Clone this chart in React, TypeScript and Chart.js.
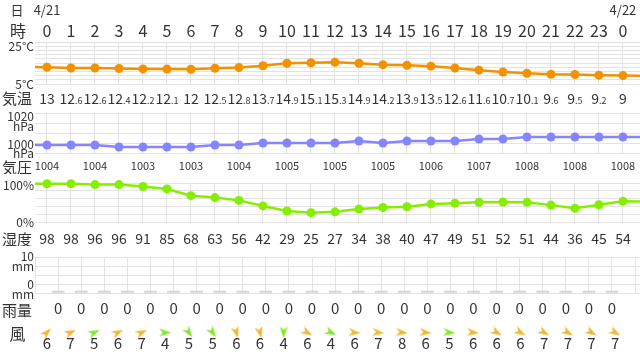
import React, { useEffect, useRef } from 'react';
import { Chart, registerables } from 'chart.js';

Chart.register(...registerables);

// ---------- data ----------
const hourLabels = ['0','1','2','3','4','5','6','7','8','9','10','11','12','13','14','15','16','17','18','19','20','21','22','23','0'];
const dateLabels = ['4/21','','','','','','','','','','','','','','','','','','','','','','','','4/22'];

const temperature = [13, 12.6, 12.6, 12.4, 12.2, 12.1, 12, 12.5, 12.8, 13.7, 14.9, 15.1, 15.3, 14.9, 14.2, 13.9, 13.5, 12.6, 11.6, 10.7, 10.1, 9.6, 9.5, 9.2, 9];
const temperatureBefore = 13.1;
const temperatureAfter = 8.9;

const pressure = [1004, 1004, 1004, 1003, 1003, 1003, 1003, 1004, 1004, 1005, 1005, 1005, 1005, 1006, 1005, 1006, 1006, 1006, 1007, 1007, 1008, 1008, 1008, 1008, 1008];
const pressureBefore = 1004;
const pressureAfter = 1008;

const humidity = [98, 98, 96, 96, 91, 85, 68, 63, 56, 42, 29, 25, 27, 34, 38, 40, 47, 49, 51, 52, 51, 44, 36, 45, 54];
const humidityBefore = 98;
const humidityAfter = 53;

const rainfall = [0, 0, 0, 0, 0, 0, 0, 0, 0, 0, 0, 0, 0, 0, 0, 0, 0, 0, 0, 0, 0, 0, 0, 0, 0];

const windSpeed = [6, 7, 5, 6, 7, 4, 5, 5, 6, 6, 4, 6, 4, 6, 7, 8, 6, 5, 6, 6, 6, 7, 7, 7, 7];
// arrow heading on screen, degrees clockwise from "pointing right"
const windHeading = [-45, -25, -25, -25, -25, 0, 55, 55, 75, 75, 90, 30, 25, 5, 5, 5, 5, 5, 5, 30, 30, 30, 30, 30, 30];

// ---------- style ----------
const FONT = "'Noto Sans CJK JP', 'Noto Sans', sans-serif";
const TEXT = '#333333';
const GRID = '#e3e3e3';
const ORANGE = '#f39200';
const PURPLE = '#8585ff';
const GREEN = '#86ee00';
const WIND_ORANGE = '#f6b62c';
const WIND_GREEN = '#80e825';

const cols = hourLabels.map((_, i) => i);
const colEdges = [...cols.map((i) => i - 0.5), 24.5];

function xScale(gridAt: number[] | null) {
  return {
    type: 'linear',
    min: -0.5,
    max: 24.71,
    display: gridAt !== null,
    afterBuildTicks: (s: any) => {
      s.ticks = (gridAt || []).map((v) => ({ value: v }));
    },
    ticks: { display: false },
    grid: { color: GRID, drawTicks: false, lineWidth: 1 },
    border: { display: false },
  };
}

function yScale(min: number, max: number, step: number) {
  return {
    type: 'linear',
    min,
    max,
    afterBuildTicks: (s: any) => {
      const t: any[] = [];
      for (let v = min; v <= max + 1e-9; v += step) t.push({ value: v });
      s.ticks = t;
    },
    ticks: { display: false },
    grid: { color: GRID, drawTicks: false, lineWidth: 1 },
    border: { display: false },
  };
}

function txt(ctx: CanvasRenderingContext2D, s: string, x: number, y: number, size: number, align: CanvasTextAlign = 'center', color = TEXT) {
  ctx.save();
  ctx.font = `${size}px ${FONT}`;
  ctx.fillStyle = color;
  ctx.textAlign = align;
  ctx.textBaseline = 'middle';
  ctx.fillText(s, x, y);
  ctx.restore();
}

function tempText(ctx: CanvasRenderingContext2D, v: number, x: number, baseline: number) {
  const [ip, dp] = String(v).split('.');
  ctx.save();
  ctx.fillStyle = TEXT;
  ctx.textBaseline = 'alphabetic';
  ctx.textAlign = 'left';
  ctx.font = `14px ${FONT}`;
  const w1 = ctx.measureText(ip).width;
  let w2 = 0;
  if (dp) {
    ctx.font = `9px ${FONT}`;
    w2 = ctx.measureText('.' + dp).width;
  }
  const left = x - (w1 + w2) / 2;
  ctx.font = `14px ${FONT}`;
  ctx.fillText(ip, left, baseline);
  if (dp) {
    ctx.font = `9px ${FONT}`;
    ctx.fillText('.' + dp, left + w1, baseline);
  }
  ctx.restore();
}

function lineData(before: number, values: number[], after: number) {
  return [{ x: -1, y: before }, ...values.map((y, i) => ({ x: i, y })), { x: 25, y: after }];
}

function lineDataset(data: any[], color: string) {
  return {
    type: 'line',
    data,
    borderColor: color,
    backgroundColor: color,
    borderWidth: 2.5,
    pointBackgroundColor: color,
    pointBorderWidth: 0,
    pointRadius: (c: any) => (c.raw && (c.raw.x < 0 || c.raw.x > 24) ? 0 : 4.5),
    tension: 0,
    clip: { left: 0, right: 0, top: false, bottom: false },
  };
}

function makeArrow(color: string) {
  const c = document.createElement('canvas');
  c.width = 14;
  c.height = 14;
  const g = c.getContext('2d')!;
  g.fillStyle = color;
  g.beginPath();
  g.moveTo(13, 7);
  g.lineTo(1, 3);
  g.lineTo(4.5, 7);
  g.lineTo(1, 11);
  g.closePath();
  g.fill();
  return c;
}

const baseOptions = (padding: any) => ({
  responsive: false,
  animation: false,
  events: [],
  layout: { padding },
  plugins: { legend: { display: false }, tooltip: { enabled: false } },
});

export default function App() {
  const tRef = useRef<HTMLCanvasElement>(null);
  const pRef = useRef<HTMLCanvasElement>(null);
  const hRef = useRef<HTMLCanvasElement>(null);
  const rRef = useRef<HTMLCanvasElement>(null);
  const wRef = useRef<HTMLCanvasElement>(null);

  useEffect(() => {
    const charts: Chart[] = [];

    // temperature + header
    charts.push(
      new Chart(tRef.current!, {
        type: 'line',
        data: { datasets: [lineDataset(lineData(temperatureBefore, temperature, temperatureAfter), ORANGE) as any] },
        options: {
          ...(baseOptions({ left: 35, right: 0, top: 42, bottom: 24 }) as any),
          scales: { x: xScale(cols), y: yScale(5, 25, 2) },
        },
        plugins: [
          {
            id: 'tempText',
            afterDraw(chart: any) {
              const ctx = chart.ctx;
              const xs = chart.scales.x;
              txt(ctx, '日', 17, 10, 13);
              txt(ctx, '時', 18, 31, 16);
              dateLabels.forEach((d, i) => d && txt(ctx, d, xs.getPixelForValue(i), 10, 13));
              hourLabels.forEach((h, i) => txt(ctx, h, xs.getPixelForValue(i), 31, 16));
              txt(ctx, '25°C', 34, 46.5, 12, 'right');
              txt(ctx, '5°C', 34, 84.5, 12, 'right');
              txt(ctx, '気温', 2, 98.5, 15, 'left');
              temperature.forEach((v, i) => tempText(ctx, v, xs.getPixelForValue(i), 103.5));
            },
          },
        ],
      } as any)
    );

    // pressure
    charts.push(
      new Chart(pRef.current!, {
        type: 'line',
        data: { datasets: [lineDataset(lineData(pressureBefore, pressure, pressureAfter), PURPLE) as any] },
        options: {
          ...(baseOptions({ left: 35, right: 0, top: 5, bottom: 21 }) as any),
          scales: { x: xScale(cols), y: yScale(1000, 1020, 5) },
        },
        plugins: [
          {
            id: 'presText',
            afterDraw(chart: any) {
              const ctx = chart.ctx;
              const xs = chart.scales.x;
              txt(ctx, '1020', 34, 8.5, 12, 'right');
              txt(ctx, 'hPa', 34, 18, 12, 'right');
              txt(ctx, '1000', 34, 36.5, 12, 'right');
              txt(ctx, 'hPa', 34, 45.5, 12, 'right');
              txt(ctx, '気圧', 2, 59.5, 15, 'left');
              pressure.forEach((v, i) => {
                if (i % 2 === 0) txt(ctx, String(v), xs.getPixelForValue(i), 58, 11);
              });
            },
          },
        ],
      } as any)
    );

    // humidity
    charts.push(
      new Chart(hRef.current!, {
        type: 'line',
        data: { datasets: [lineDataset(lineData(humidityBefore, humidity, humidityAfter), GREEN) as any] },
        options: {
          ...(baseOptions({ left: 35, right: 0, top: 9, bottom: 23.5 }) as any),
          scales: { x: xScale(cols), y: yScale(0, 100, 20) },
        },
        plugins: [
          {
            id: 'humText',
            afterDraw(chart: any) {
              const ctx = chart.ctx;
              const xs = chart.scales.x;
              txt(ctx, '100%', 34, 11, 12, 'right');
              txt(ctx, '0%', 34, 48.5, 12, 'right');
              txt(ctx, '湿度', 2, 65, 15, 'left');
              humidity.forEach((v, i) => txt(ctx, String(v), xs.getPixelForValue(i), 64.5, 14));
            },
          },
        ],
      } as any)
    );

    // rainfall
    charts.push(
      new Chart(rRef.current!, {
        type: 'bar',
        data: {
          datasets: [
            {
              data: rainfall.map((y, i) => ({ x: i, y })),
              backgroundColor: '#d6d6d6',
              barThickness: 12,
              minBarLength: 2,
              borderWidth: 0,
              clip: false,
            } as any,
          ],
        },
        options: {
          ...(baseOptions({ left: 35, right: 0, top: 11, bottom: 25 }) as any),
          scales: { x: xScale(colEdges), y: yScale(0, 10, 2.5) },
        },
        plugins: [
          {
            id: 'rainText',
            afterDraw(chart: any) {
              const ctx = chart.ctx;
              const xs = chart.scales.x;
              txt(ctx, '10', 34, 10.5, 12, 'right');
              txt(ctx, 'mm', 34, 20.5, 12, 'right');
              txt(ctx, '0', 34, 38.5, 12, 'right');
              txt(ctx, 'mm', 34, 48.5, 12, 'right');
              txt(ctx, '雨量', 2, 64.5, 15, 'left');
              rainfall.forEach((v, i) => txt(ctx, String(v), xs.getPixelForValue(i), 62.5, 15));
            },
          },
        ],
      } as any)
    );

    // wind
    const orangeArrow = makeArrow(WIND_ORANGE);
    const greenArrow = makeArrow(WIND_GREEN);
    charts.push(
      new Chart(wRef.current!, {
        type: 'line',
        data: {
          datasets: [
            {
              data: windSpeed.map((_, i) => ({ x: i, y: 0 })),
              showLine: false,
              pointRadius: 7,
              pointStyle: (c: any) => (windSpeed[c.dataIndex] <= 5 ? greenArrow : orangeArrow),
              pointRotation: windHeading,
              clip: false,
            } as any,
          ],
        },
        options: {
          ...(baseOptions({ left: 35, right: 0, top: 0, bottom: 15 }) as any),
          scales: {
            x: xScale(null),
            y: { type: 'linear', min: -1, max: 1, display: false },
          },
        },
        plugins: [
          {
            id: 'windText',
            afterDraw(chart: any) {
              const ctx = chart.ctx;
              const xs = chart.scales.x;
              txt(ctx, '風', 17.5, 15.5, 16);
              windSpeed.forEach((v, i) => txt(ctx, String(v), xs.getPixelForValue(i), 25.5, 15));
            },
          },
        ],
      } as any)
    );

    return () => charts.forEach((c) => c.destroy());
  }, []);

  const cv = (top: number, height: number, ref: any) => (
    <canvas ref={ref} width={640} height={height} style={{ position: 'absolute', left: 0, top, width: 640, height }} />
  );

  return (
    <div style={{ position: 'absolute', left: 0, top: 0, width: 640, height: 354, background: '#ffffff', overflow: 'hidden' }}>
      {cv(0, 108, tRef)}
      {cv(108, 66, pRef)}
      {cv(174, 72, hRef)}
      {cv(246, 72, rRef)}
      {cv(318, 36, wRef)}
    </div>
  );
}
